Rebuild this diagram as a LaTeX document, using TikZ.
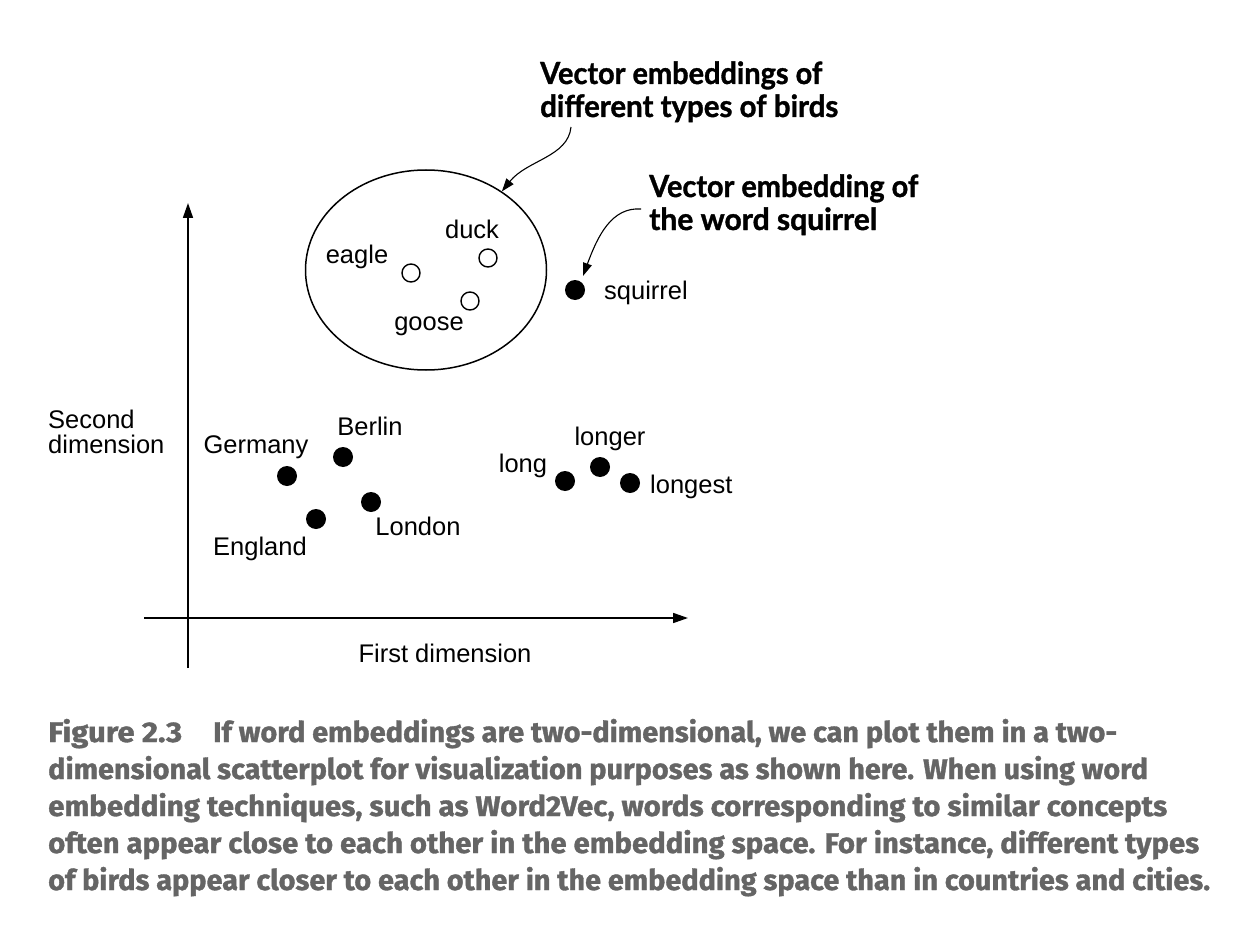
\documentclass[tikz,border=0pt]{standalone}
\usepackage{fontspec}
\setmainfont{Liberation Sans}
\newfontfamily\annfont{Lato}[BoldFeatures={FakeBold=1.2}]
\newfontfamily\capfont{Fira Sans}[BoldFeatures={FakeBold=1.2}]
\usepackage{graphicx}
\usetikzlibrary{arrows.meta,shapes.geometric}
\definecolor{capgray}{HTML}{656565}
\newcommand{\fitw}[2]{\resizebox{#1}{\height}{#2}}
\begin{document}
\begin{tikzpicture}[x=1pt,y=-1pt,
 lbl/.style={font=\fontsize{25.5}{28}\selectfont, inner sep=0pt, anchor=base},
 lblw/.style={lbl, anchor=base west},
 ann/.style={font=\annfont\bfseries\fontsize{30.5}{32}\selectfont, inner sep=0pt, anchor=base west},
 capl/.style={font=\capfont\bfseries\fontsize{28.5}{30}\selectfont, text=capgray, inner sep=0pt, anchor=base west},
 dot/.style={circle, fill=black, inner sep=0pt, minimum size=20pt},
 odot/.style={circle, draw=black, line width=1.4pt, fill=white, inner sep=0pt, minimum size=18pt},
 axis/.style={line width=1.7pt, -{Triangle[length=15pt,width=10pt]}},
 pointer/.style={line width=1.1pt, -{Triangle[length=13pt,width=9pt]}},
]
\useasboundingbox[fill=white] (0,0) rectangle (1250,952);

% axes
\coordinate (yb) at (188,668);
\coordinate (yt) at (188,203);
\coordinate (xl) at (144,618);
\coordinate (xr) at (688,618);
\draw[axis] (yb) -- (yt);
\draw[axis] (xl) -- (xr);

\node[lblw] (ylab1) at (48,428) {Second};
\node[lblw] (ylab2) at (48,453) {dimension};
\node[lbl] (xlab) at (445,662) {First dimension};

% bird cluster
\node (birds) [draw, ellipse, line width=1.5pt, inner sep=0pt, minimum width=241pt, minimum height=200pt] at (426,270) {};
\node[odot] (eagle) at (411,273) {};
\node[odot] (duck) at (488,258) {};
\node[odot] (goose) at (470,301) {};
\node[lbl] (eaglel) at (357,263) {eagle};
\node[lbl] (duckl) at (472,238) {duck};
\node[lbl] (goosel) at (429,330) {goose};

% squirrel
\node[dot] (squirrel) at (575,290) {};
\node[lblw] (squirrell) at (604,299) {squirrel};

% countries and cities
\node[dot] (germany) at (287,476) {};
\node[dot] (berlin) at (343,457) {};
\node[dot] (london) at (371,502) {};
\node[dot] (england) at (316,519) {};
\node[lbl] (germanyl) at (256,453) {Germany};
\node[lbl] (berlinl) at (370,435) {Berlin};
\node[lbl] (englandl) at (260,555) {England};
\node[lbl] (londonl) at (418,535) {London};

% long
\node[dot] (long) at (565,481) {};
\node[dot] (longer) at (600,467) {};
\node[dot] (longest) at (630,483) {};
\node[lbl] (longl) at (523,472) {long};
\node[lbl] (longerl) at (610,445) {longer};
\node[lblw] (longestl) at (650,493) {longest};

% annotations
\node[ann] (a1) at (540,84) {\fitw{282pt}{Vector embeddings of}};
\node[ann] (a2) at (540,117) {\fitw{298pt}{different types of birds}};
\node[ann] (b1) at (649,197) {\fitw{269pt}{Vector embedding of}};
\node[ann] (b2) at (649,230) {\fitw{228pt}{the word squirrel}};

\coordinate (p1s) at (571,127);
\coordinate (p2s) at (641,209);
\coordinate (p2e) at (583,276);
\draw[pointer] (p1s) .. controls (568,157) and (527,160) .. (birds.46);
\draw[pointer] (p2s) .. controls (612,207) and (598,235) .. (p2e);

% caption
\node[capl] (c0) at (48,742) {\fitw{134pt}{Figure 2.3}};
\node[capl] (c1) at (213,742) {\fitw{904pt}{If word embeddings are two-dimensional, we can plot them in a two-}};
\node[capl] (c2) at (48,779) {\fitw{1100pt}{dimensional scatterplot for visualization purposes as shown here. When using word}};
\node[capl] (c3) at (48,816) {\fitw{1119pt}{embedding techniques, such as Word2Vec, words corresponding to similar concepts}};
\node[capl] (c4) at (48,853) {\fitw{1151pt}{often appear close to each other in the embedding space. For instance, different types}};
\node[capl] (c5) at (48,890) {\fitw{1162pt}{of birds appear closer to each other in the embedding space than in countries and cities.}};
\end{tikzpicture}
\end{document}
